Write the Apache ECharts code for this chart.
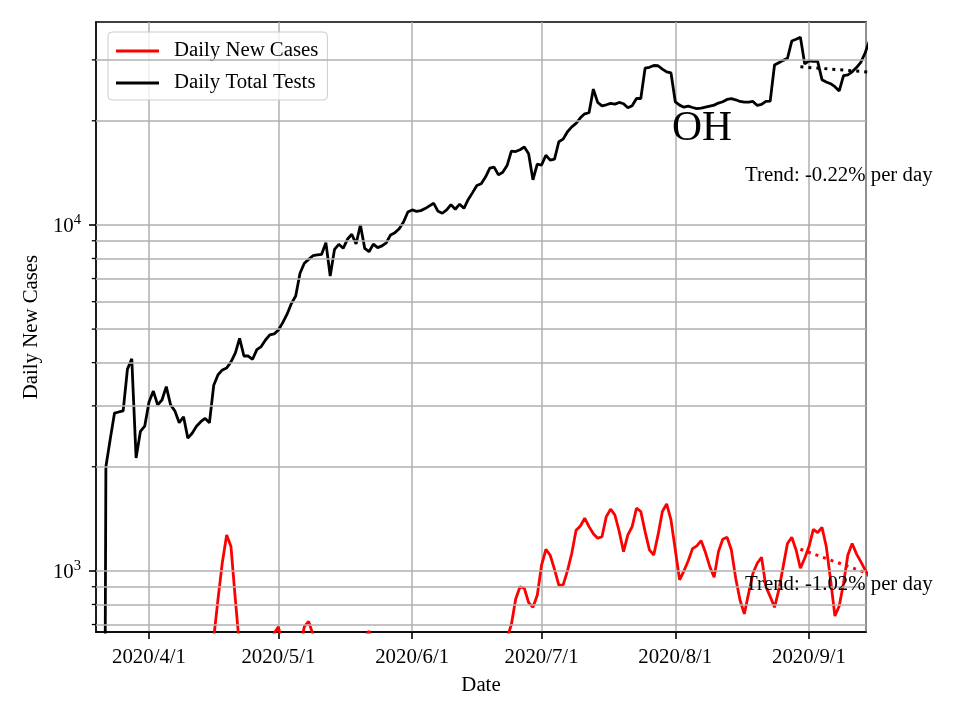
<!DOCTYPE html>
<html><head><meta charset="utf-8">
<script src="https://cdn.jsdelivr.net/npm/echarts@6/dist/echarts.min.js"></script>
<style>html,body{margin:0;padding:0;background:#fff}#c{width:960px;height:720px}</style>
</head><body><div id="c"></div>
<script>
// ---- data (daily values from 2020-03-21 to 2020-09-15) ----
const firstDay = [2020, 2, 21]; // year, monthIndex, day
const newCases = [
  80,100,130,150,190,240,250,230,250,330,370,
  350,380,410,430,400,370,410,520,560,450,400,340,380,470,550,640,830,1060,1270,1176,830,600,560,620,560,470,450,500,560,660,
  690,600,480,450,520,600,690,715,655,560,450,500,560,610,640,600,520,450,490,570,640,670,600,420,390,400,420,460,510,480,400,
  430,460,470,420,480,430,390,400,380,440,440,500,420,370,380,460,500,540,600,620,560,600,640,700,830,900,891,810,785,850,
  1040,1155,1110,1010,910,911,1000,1125,1310,1349,1420,1343,1280,1243,1256,1435,1508,1451,1300,1137,1271,1343,1518,1485,1299,1150,1112,1271,1485,1562,1404,
  1150,942,1000,1070,1160,1181,1223,1130,1029,959,1137,1235,1251,1150,953,824,751,862,985,1052,1095,901,843,785,881,1029,1200,1251,1150,1018,1088,
  1176,1319,1290,1337,1176,942,741,792,921,1112,1200,1120,1064,1007,960
];
const totalTests = [
  1,2000,2400,2860,2880,2900,3830,4100,2120,2530,2620,
  3080,3310,3020,3120,3410,3020,2900,2680,2790,2420,2500,2620,2700,2760,2680,3440,3690,3810,3860,4020,4260,4700,4180,4180,4090,4360,4450,4650,4810,4840,
  4970,5220,5520,5930,6230,7250,7750,7950,8150,8190,8220,8890,7120,8500,8790,8560,9090,9400,8810,10000,8560,8370,8800,8600,8700,8880,9360,9500,9750,10200,10900,
  11050,10950,11000,11150,11350,11550,10950,10810,11050,11450,11100,11480,11170,11850,12400,13000,13150,13750,14600,14700,13950,14200,14850,16350,16300,16500,16800,16050,13500,15000,
  14900,15900,15400,15500,17400,17700,18600,19200,19650,20400,20950,21100,24700,22600,22100,22250,22450,22350,22600,22400,21800,22100,23200,23200,28400,28550,28900,28850,28200,27700,27500,
  22700,22200,21900,22050,21850,21700,21750,21900,22050,22200,22500,22700,23050,23170,23000,22750,22640,22640,22750,22150,22300,22750,22800,29000,29450,29900,30300,34000,34400,34900,29200,
  29800,29700,29700,26300,25900,25600,25100,24400,27000,27150,27700,28500,29500,31400,34000
];
const trendDates = ['2020-08-30', '2020-09-15'];
const trendTests = [28650, 27660];
const trendCases = [1155, 980];
const yGridValues = [700,800,900,1000,2000,3000,4000,5000,6000,7000,8000,9000,10000,20000,30000];
const yMinorTicks = [700,800,900,2000,3000,4000,5000,6000,7000,8000,9000,20000,30000];
const seriesNames = ['Daily New Cases', 'Daily Total Tests'];
const trendLabels = ['Trend: -0.22% per day', 'Trend: -1.02% per day'];
const stateLabel = 'OH';

// ---- build ----
const FONT = "'Liberation Serif','Times New Roman','DejaVu Serif',serif";
function dayTs(i) { return new Date(firstDay[0], firstDay[1], firstDay[2] + i).getTime(); }
function parseDay(s) { const p = s.split('-').map(Number); return new Date(p[0], p[1]-1, p[2]).getTime(); }
const casesData = newCases.map((v, i) => [dayTs(i), v]);
const testsData = totalTests.map((v, i) => [dayTs(i), v]);
const xMin = new Date(2020, 2, 19, 17, 0).getTime();
const xMax = new Date(2020, 8, 14, 5, 0).getTime();

const chart = echarts.init(document.getElementById('c'), null, {renderer: 'canvas'});
chart.setOption({
  animation: false,
  backgroundColor: '#fff',
  grid: {left: 96, right: 94, top: 22, bottom: 88, show: true, borderColor: '#000', borderWidth: 1.6, backgroundColor: 'transparent'},
  legend: {
    data: seriesNames, orient: 'vertical', left: 108, top: 32,
    padding: [7, 9, 5, 8], itemGap: 8, itemWidth: 43, itemHeight: 3, icon: 'rect',
    backgroundColor: 'rgba(255,255,255,0.8)', borderColor: '#cccccc', borderWidth: 1, borderRadius: 4,
    textStyle: {fontFamily: FONT, fontSize: 20.8, color: '#000', lineHeight: 24, padding: [0, 0, 0, 10]}
  },
  xAxis: {
    type: 'time', min: xMin, max: xMax, splitNumber: 6,
    name: 'Date', nameLocation: 'middle', nameGap: 43,
    nameTextStyle: {fontFamily: FONT, fontSize: 20.8, color: '#000'},
    axisLine: {show: true, onZero: false, lineStyle: {color: '#000', width: 1.6}},
    axisTick: {show: true, length: 7, lineStyle: {color: '#000', width: 1.6}},
    axisLabel: {margin: 15, formatter: '{yyyy}/{M}/{d}', showMinLabel: false, showMaxLabel: false,
      fontFamily: FONT, fontSize: 20.8, color: '#000'},
    splitLine: {show: true, lineStyle: {color: '#b0b0b0', width: 1.5}}
  },
  yAxis: {
    type: 'log', logBase: 10, min: 666, max: 38600, splitNumber: 2,
    name: 'Daily New Cases', nameLocation: 'middle', nameGap: 52, nameRotate: 90,
    nameTextStyle: {fontFamily: FONT, fontSize: 20.8, color: '#000'},
    axisLine: {show: true, lineStyle: {color: '#000', width: 1.6}},
    axisTick: {show: true, length: 7, lineStyle: {color: '#000', width: 1.6}},
    axisLabel: {
      margin: 15, showMinLabel: false, showMaxLabel: false,
      formatter: function (v) {
        const e = Math.log10(v);
        if (Math.abs(e - Math.round(e)) < 1e-6) return '{b|10}{s|' + Math.round(e) + '}';
        return '';
      },
      rich: {
        b: {fontFamily: FONT, fontSize: 20.8, color: '#000', verticalAlign: 'bottom'},
        s: {fontFamily: FONT, fontSize: 14.6, color: '#000', verticalAlign: 'bottom', padding: [0, 0, 9, 0]}
      }
    },
    splitLine: {show: false}
  },
  series: [
    {
      name: 'grid', type: 'line', data: [], silent: true, z: 1,
      markLine: {silent: true, symbol: ['none', 'none'], label: {show: false},
        lineStyle: {color: '#b0b0b0', width: 1.5, type: 'solid'},
        data: yGridValues.map(v => ({yAxis: v}))}
    },
    {
      name: 'minorTicks', type: 'custom', silent: true, z: 5, clip: false,
      data: yMinorTicks.map(v => [xMin, v]),
      renderItem: function (params, api) {
        const p = api.coord([api.value(0), api.value(1)]);
        return {type: 'line', shape: {x1: p[0] - 4.2, y1: p[1], x2: p[0], y2: p[1]},
          style: {stroke: '#000', lineWidth: 1.3}};
      }
    },
    {
      name: seriesNames[0], type: 'line', data: casesData, showSymbol: false, symbol: 'none', z: 3,
      lineStyle: {color: '#ff0000', width: 2.8}, itemStyle: {color: '#ff0000'}, clip: true
    },
    {
      name: seriesNames[1], type: 'line', data: testsData, showSymbol: false, symbol: 'none', z: 3,
      lineStyle: {color: '#000000', width: 2.8}, itemStyle: {color: '#000000'}, clip: true
    },
    {
      name: 'trendCases', type: 'line', data: trendDates.map((d, i) => [parseDay(d), trendCases[i]]),
      showSymbol: false, symbol: 'none', z: 4, clip: true,
      lineStyle: {color: '#ff0000', width: 3, type: [3, 5]}, itemStyle: {color: '#ff0000'}
    },
    {
      name: 'trendTests', type: 'line', data: trendDates.map((d, i) => [parseDay(d), trendTests[i]]),
      showSymbol: false, symbol: 'none', z: 4, clip: true,
      lineStyle: {color: '#000000', width: 3, type: [3, 5]}, itemStyle: {color: '#000000'}
    }
  ],
  graphic: [
    {type: 'text', x: 702, y: 129, z: 10, style: {text: stateLabel, fill: '#000', font: '41.6px ' + FONT, align: 'center', verticalAlign: 'middle'}},
    {type: 'text', x: 745, y: 176, z: 10, style: {text: trendLabels[0], fill: '#000', font: '20.8px ' + FONT, align: 'left', verticalAlign: 'middle'}},
    {type: 'text', x: 745, y: 585, z: 10, style: {text: trendLabels[1], fill: '#000', font: '20.8px ' + FONT, align: 'left', verticalAlign: 'middle'}}
  ]
});
</script></body></html>
